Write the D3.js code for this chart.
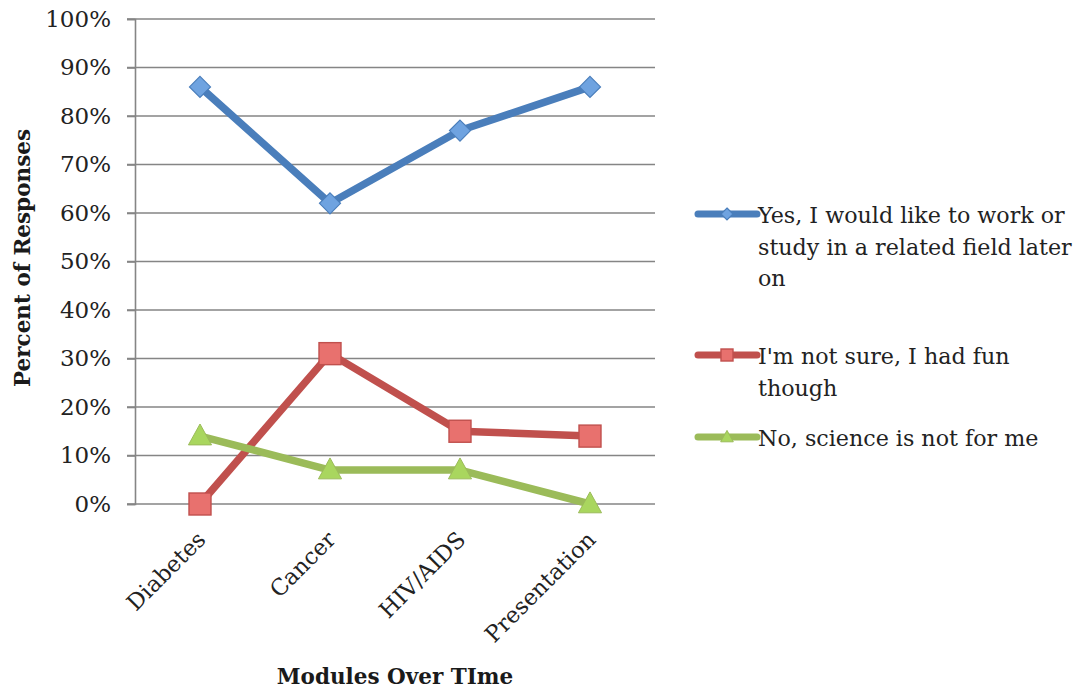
<!DOCTYPE html>
<html>
<head>
<meta charset="utf-8">
<script src="https://cdn.jsdelivr.net/npm/d3@7"></script>
<style>
  body { margin: 0; background: #fff; }
  svg { font-family: "DejaVu Serif", "Liberation Serif", serif; }
</style>
</head>
<body>
<svg id="chart"></svg>
<script>
// Chart data
const modules = ['Diabetes', 'Cancer', 'HIV/AIDS', 'Presentation'];
const yesValues = [86, 62, 77, 86];
const notSureValues = [0, 31, 15, 14];
const noValues = [14, 7, 7, 0];
const yTicks = [0, 10, 20, 30, 40, 50, 60, 70, 80, 90, 100];
const seriesNames = [
    ['Yes, I would like to work or', 'study in a related field later', 'on'],
    ["I'm not sure, I had fun", 'though'],
    ['No, science is not for me']
];

const series = [
    { values: yesValues, color: '#4a7ebb', fill: '#6fa3e0', marker: 'diamond', label: seriesNames[0] },
    { values: notSureValues, color: '#c0504d', fill: '#e8716e', marker: 'square', label: seriesNames[1] },
    { values: noValues, color: '#9bbb59', fill: '#a9d65e', marker: 'triangle', label: seriesNames[2] }
];

const fontFamily = '"DejaVu Serif", "Liberation Serif", serif';

// Dimensions
const margin = { top: 19, right: 419, bottom: 187, left: 135 };
const width = 1074 - margin.left - margin.right;
const height = 691 - margin.top - margin.bottom;

const root = d3.select('#chart')
    .attr('width', 1074)
    .attr('height', 691);

const svg = root.append('g')
    .attr('transform', `translate(${margin.left},${margin.top})`);

// Scales
const xScale = d3.scaleBand()
    .domain(modules)
    .range([0, width]);

const yScale = d3.scaleLinear()
    .domain([0, 100])
    .range([height, 0]);

// Gridlines
svg.append('g')
    .selectAll('line')
    .data(yTicks)
    .join('line')
    .attr('x1', -8)
    .attr('x2', width)
    .attr('y1', d => yScale(d))
    .attr('y2', d => yScale(d))
    .attr('stroke', '#858585')
    .attr('stroke-width', 1.6);

// Y axis
const yAxis = svg.append('g')
    .call(d3.axisLeft(yScale).tickValues(yTicks).tickFormat(d => d + '%').tickSize(8));
yAxis.select('.domain').attr('stroke', '#858585').attr('stroke-width', 1.6);
yAxis.selectAll('.tick line').attr('stroke', '#858585').attr('stroke-width', 1.6);
yAxis.selectAll('.tick text')
    .attr('x', -24)
    .attr('font-family', fontFamily)
    .attr('font-size', 23)
    .attr('fill', '#222');

// X axis
const xAxis = svg.append('g')
    .attr('transform', `translate(0,${height})`)
    .call(d3.axisBottom(xScale).tickSize(0));
xAxis.select('.domain').remove();
xAxis.selectAll('.tick text')
    .attr('font-family', fontFamily)
    .attr('font-size', 22.5)
    .attr('fill', '#222')
    .attr('text-anchor', 'end')
    .attr('y', 0)
    .attr('dy', 0)
    .attr('transform', 'translate(7,37) rotate(-45)');

// Lines and markers
const line = d3.line()
    .x((d, i) => xScale(modules[i]) + xScale.bandwidth() / 2)
    .y(d => yScale(d));

function drawMarker(g, type, fill, stroke, size) {
    if (type === 'diamond') {
        g.append('path')
            .attr('d', `M0,${-size}L${size},0L0,${size}L${-size},0Z`)
            .attr('fill', fill).attr('stroke', stroke).attr('stroke-width', 1.2);
    } else if (type === 'square') {
        g.append('rect')
            .attr('x', -size).attr('y', -size)
            .attr('width', size * 2).attr('height', size * 2)
            .attr('fill', fill).attr('stroke', stroke).attr('stroke-width', 1.4);
    } else {
        g.append('path')
            .attr('d', `M0,${-size * 1.1}L${size * 1.05},${size * 0.8}L${-size * 1.05},${size * 0.8}Z`)
            .attr('fill', fill).attr('stroke', stroke).attr('stroke-width', 1);
    }
}

const markerSize = { diamond: 10.5, square: 11, triangle: 11 };

series.forEach(s => {
    svg.append('path')
        .datum(s.values)
        .attr('fill', 'none')
        .attr('stroke', s.color)
        .attr('stroke-width', 7.5)
        .attr('stroke-linejoin', 'round')
        .attr('d', line);

    s.values.forEach((v, i) => {
        const g = svg.append('g')
            .attr('transform', `translate(${xScale(modules[i]) + xScale.bandwidth() / 2},${yScale(v)})`);
        drawMarker(g, s.marker, s.fill, s.color, markerSize[s.marker]);
    });
});

// Axis titles
root.append('text')
    .attr('transform', `translate(30,258) rotate(-90)`)
    .attr('text-anchor', 'middle')
    .attr('font-weight', 'bold')
    .attr('font-size', 21.5)
    .attr('fill', '#1a1a1a')
    .text('Percent of  Responses');

root.append('text')
    .attr('x', 395)
    .attr('y', 684)
    .attr('text-anchor', 'middle')
    .attr('font-weight', 'bold')
    .attr('font-size', 21.5)
    .attr('fill', '#1a1a1a')
    .text('Modules Over TIme');

// Legend
const legendY = [214, 355, 437];
const legend = root.append('g');
series.forEach((s, i) => {
    const g = legend.append('g').attr('transform', `translate(698,${legendY[i]})`);
    g.append('line')
        .attr('x1', 0).attr('x2', 59)
        .attr('stroke', s.color)
        .attr('stroke-width', 7)
        .attr('stroke-linecap', 'round');
    drawMarker(g.append('g').attr('transform', 'translate(29,0)'), s.marker, s.fill, s.color, 6);
    g.append('text')
        .attr('y', 9)
        .attr('font-size', 22.2)
        .attr('fill', '#222')
        .selectAll('tspan')
        .data(s.label)
        .join('tspan')
        .attr('x', 60)
        .attr('dy', (d, j) => j === 0 ? 0 : 31.5)
        .text(d => d);
});
</script>
</body>
</html>
